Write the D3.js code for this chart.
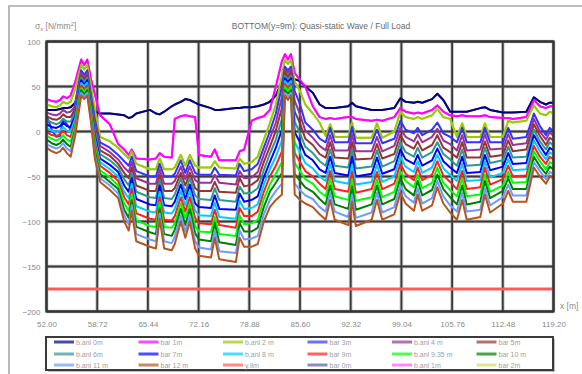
<!DOCTYPE html>
<html><head><meta charset="utf-8">
<script src="https://cdn.jsdelivr.net/npm/d3@7"></script>
<style>html,body{margin:0;padding:0;background:#fff;}svg{display:block;font-family:"Liberation Sans",Arial,sans-serif;}</style>
</head><body>
<svg id="c" width="582" height="374"></svg>
<script>
// ---- data ----
const xPos = [52.0,52.7,53.3,53.8,54.2,54.7,55.2,55.8,56.6,57.0,57.4,57.9,58.4,59.1,60.4,61.5,62.3,62.9,63.3,63.9,65.7,66.5,67.0,67.6,68.6,69.0,69.8,70.4,71.0,71.7,72.2,73.8,74.3,74.9,77.1,77.6,78.2,79.2,80.0,80.8,81.6,82.4,83.2,83.6,84.0,84.4,84.9,85.6,86.3,87.3,88.2,89.0,89.6,90.2,92.0,92.5,93.0,95.1,95.8,96.5,98.1,98.9,99.6,100.7,101.2,101.8,103.1,103.8,104.6,105.5,106.4,107.1,107.7,109.5,110.1,110.8,112.5,113.2,113.8,115.6,116.6,117.4,118.2,118.7,119.2];
const s1 = [24,24,24,25,26,26,27,32,45,44, 45,35,22,20,20,19,18,15,16,20, 24,20,19,22,28,30,33,36,35,32, 30,26,24,24,26,26,27,27,28,30, 33,40,55,62,60,62,58,56,50,43, 30,26,26,26,28,32,28,24,24,24, 26,37,33,32,33,32,36,42,35,22, 22,22,22,26,27,24,21,21,21,22, 38,33,30,32,32];
const s2 = [36,34,33,35,39,37,40,55,80,74, 80,58,42,18,8,-14,-20,-26,-20,-30, -31,-30,-24,-28,-29,14,17,18,17,16, -26,-28,-20,-32,-32,-22,-20,12,15,17, 24,50,78,86,80,86,65,57,50,28, 16,14,15,14,16,16,14,12,13,12, 16,26,22,20,21,20,24,29,22,18, 17,18,17,17,18,16,15,15,14,16, 35,28,26,28,28];
const s3 = [30,28,27,29,33,31,33,47,74,69, 74,50,25,-6,-11,-18,-25,-30,-22,-36, -42,-42,-30,-42,-42,-40,-26,-38,-26,-38, -40,-40,-33,-40,-41,-30,-36,-34,-28,-9, 9,30,62,80,75,80,55,45,30,20, 10,-5,8,-6,-6,10,-7,-7,9,-7, 0,22,16,14,16,14,18,25,16,14, -6,9,-6,-6,9,-6,-6,12,10,12, 29,20,18,22,20];
const s4 = [18,2,-6,-5,14,8,2,32,68,63, 68,40,14,-12,-18,-26,-33,-38,-28,-44, -50,-50,-36,-50,-50,-47,-32,-46,-32,-46, -48,-48,-40,-48,-49,-36,-44,-42,-36,-18, 0,20,50,72,68,72,45,30,10,2, -8,-12,4,-12,-12,5,-13,-13,2,-13, -8,12,2,-2,4,-4,2,10,-2,-6, -12,4,-12,-12,4,-12,-12,4,-8,-6, 20,6,-4,4,0];
const s5 = [21,19,18,20,24,21,22,28,65,60, 65,37,10,-16,-23,-31,-40,-45,-34,-52, -58,-58,-42,-58,-58,-55,-39,-53,-39,-54, -57,-57,-48,-57,-59,-44,-52,-51,-45,-26, -8,10,38,69,65,69,34,19,1,-7, -16,-21,-4,-21,-21,-3,-22,-22,-6,-22, -16,4,-6,-11,-3,-12,-6,3,-10,-14, -21,-4,-21,-20,-3,-20,-19,-3,-15,-13, 14,0,-9,-1,-5];
const s6 = [17,14,13,15,19,16,16,25,62,58, 62,34,5,-21,-27,-36,-46,-52,-40,-60, -66,-66,-48,-66,-66,-63,-46,-60,-46,-63, -66,-66,-56,-67,-68,-52,-61,-59,-54,-34, -17,1,26,66,61,66,22,9,-8,-15, -25,-29,-12,-29,-30,-12,-31,-30,-14,-30, -25,-4,-14,-19,-11,-21,-15,-4,-18,-23, -29,-12,-29,-29,-11,-28,-26,-10,-22,-20, 8,-5,-15,-7,-10];
const s7 = [13,10,8,10,14,11,11,21,60,55, 60,31,1,-25,-32,-40,-53,-60,-46,-67, -73,-74,-54,-74,-75,-70,-52,-68,-52,-71, -75,-76,-63,-76,-78,-61,-69,-68,-63,-43, -25,-9,14,62,58,62,11,-2,-17,-24, -33,-38,-20,-38,-40,-20,-41,-39,-21,-39, -33,-12,-23,-28,-18,-29,-23,-12,-25,-31, -38,-20,-38,-37,-18,-35,-32,-17,-29,-28, 2,-11,-20,-12,-16];
const s8 = [8,5,4,6,10,6,5,17,57,52, 57,28,-4,-30,-37,-45,-60,-67,-52,-75, -81,-82,-60,-82,-83,-78,-59,-75,-59,-80, -84,-85,-71,-86,-87,-69,-78,-76,-72,-51, -34,-18,2,59,55,59,-1,-12,-26,-32, -42,-46,-28,-46,-49,-28,-50,-47,-29,-47, -42,-20,-31,-36,-26,-38,-32,-19,-33,-40, -46,-28,-46,-45,-26,-43,-39,-24,-36,-35, -4,-16,-26,-18,-21];
const s9 = [4,1,-1,1,5,1,0,14,54,50, 54,25,-8,-34,-42,-50,-67,-74,-58,-83, -89,-90,-67,-90,-91,-86,-66,-82,-66,-88, -93,-94,-79,-95,-97,-77,-86,-85,-81,-59, -42,-28,-10,56,52,56,-12,-23,-35,-41, -50,-55,-36,-55,-58,-37,-59,-56,-37,-56, -50,-28,-39,-45,-33,-46,-40,-26,-41,-48, -55,-36,-55,-54,-33,-51,-46,-31,-43,-42, -10,-22,-31,-23,-26];
const s10 = [-1,-4,-5,-3,1,-4,-6,10,51,47, 51,22,-12,-38,-46,-55,-73,-81,-64,-91, -97,-98,-73,-98,-99,-94,-73,-89,-73,-96, -102,-103,-87,-104,-107,-85,-94,-94,-89,-67, -50,-38,-22,53,48,53,-24,-34,-44,-50, -58,-64,-44,-64,-67,-45,-68,-64,-45,-64, -58,-36,-47,-54,-40,-54,-48,-33,-49,-56, -64,-44,-64,-62,-40,-59,-53,-38,-50,-49, -16,-28,-36,-28,-31];
const s11 = [-5,-8,-10,-8,-4,-9,-11,6,48,44, 48,19,-17,-43,-51,-60,-80,-88,-70,-99, -105,-106,-79,-106,-107,-102,-80,-96,-80,-105, -111,-112,-95,-114,-116,-93,-103,-102,-98,-75, -59,-47,-34,50,45,50,-35,-44,-53,-58, -67,-72,-52,-72,-76,-53,-77,-73,-53,-73, -67,-44,-55,-62,-48,-63,-57,-40,-57,-65, -72,-52,-72,-70,-48,-67,-60,-45,-57,-56, -22,-33,-42,-34,-36];
const s12 = [-9,-13,-15,-13,-9,-14,-17,2,46,41, 46,16,-21,-47,-56,-64,-87,-96,-76,-106, -112,-114,-85,-114,-116,-109,-86,-104,-86,-113, -120,-122,-102,-123,-126,-102,-111,-111,-107,-84, -67,-57,-46,46,42,46,-47,-55,-62,-67, -75,-81,-60,-81,-86,-61,-87,-81,-60,-81, -75,-52,-64,-71,-55,-71,-65,-48,-64,-73, -81,-60,-81,-78,-55,-74,-66,-52,-64,-64, -28,-39,-47,-39,-42];
const s13 = [-14,-17,-19,-17,-13,-19,-22,-1,43,39, 43,13,-26,-52,-60,-69,-93,-103,-82,-114, -120,-122,-91,-122,-124,-117,-93,-111,-93,-122, -129,-131,-110,-133,-135,-110,-120,-119,-116,-92, -76,-66,-58,43,38,43,-58,-65,-71,-75, -84,-89,-68,-89,-95,-70,-96,-90,-68,-90, -84,-60,-72,-79,-63,-80,-74,-55,-72,-82, -89,-68,-89,-87,-63,-82,-73,-59,-71,-71, -34,-44,-53,-45,-47];
const s14 = [-18,-22,-24,-22,-18,-24,-28,-5,40,36, 40,10,-30,-56,-65,-74,-100,-110,-88,-122, -128,-130,-97,-130,-132,-125,-100,-118,-100,-130, -138,-140,-118,-142,-145,-118,-128,-128,-125,-100, -84,-76,-70,40,35,40,-70,-76,-80,-84, -92,-98,-76,-98,-104,-78,-105,-98,-76,-98, -92,-68,-80,-88,-70,-88,-82,-62,-80,-90, -98,-76,-98,-95,-70,-90,-80,-66,-78,-78, -40,-50,-58,-50,-52];
const limitX = [52.0, 119.2];
const limitY = [-175, -175];

const xTicks = [52.00,58.72,65.44,72.16,78.88,85.60,92.32,99.04,105.76,112.48,119.20];
const xTickLabels = ["52.00","58.72","65.44","72.16","78.88","85.60","92.32","99.04","105.76","112.48","119.20"];
const yTicks = [100,50,0,-50,-100,-150,-200];

const seriesNames = ["b.anl 0m","bar 1m","b.anl 2 m","bar 3m","b.anl 4 m","bar 5m",
                     "b.anl 6m","bar 7m","b.anl 8 m","bar 9m","b.anl 9.35 m","bar 10 m",
                     "b.anl 11 m","bar 12 m","y.lim","bar 0m","b.anl 1m","bar 2m"];
const seriesColors = ["#000080","#ff00ff","#99cc00","#3333ff","#993399","#993333",
                      "#2a9a96","#0000ff","#00ccff","#ff2020","#00ff00","#008000",
                      "#6f9bff","#b5551f","#ff5a5a","#5c5ca8","#ff55ff","#c8e064"];
const seriesX = [xPos,xPos,xPos,xPos,xPos,xPos,xPos,xPos,xPos,xPos,xPos,xPos,xPos,xPos,limitX,xPos,xPos,xPos];
const seriesY = [s1,s2,s3,s4,s5,s6,s7,s8,s9,s10,s11,s12,s13,s14,limitY,s1,s2,s3];

// ---- chart ----
const svg = d3.select("#c");
const L = 46.5, R = 553.5, T = 41.5, B = 311.5;
const x = d3.scaleLinear().domain([52, 119.2]).range([L, R]);
const y = d3.scaleLinear().domain([-200, 100]).range([B, T]);

// outer chart frame
svg.append("path").attr("d","M9,380 L9,6 L600,6").attr("fill","none").attr("stroke","#a8a8a8").attr("stroke-width",1.6);

// grid (halo + core)
const grid = svg.append("g");
[["#c4c4c4",3.6],["#3a3a3a",1.8]].forEach(([col,w])=>{
  grid.selectAll(null).data(xTicks).enter().append("line")
    .attr("x1",d=>x(d)).attr("x2",d=>x(d)).attr("y1",T).attr("y2",B)
    .attr("stroke",col).attr("stroke-width",w);
  grid.selectAll(null).data(yTicks).enter().append("line")
    .attr("y1",d=>y(d)).attr("y2",d=>y(d)).attr("x1",L).attr("x2",R)
    .attr("stroke",col).attr("stroke-width",w);
});

// series
const line = d3.line().x(d=>x(d[0])).y(d=>y(d[1]));
const order = [15,16,17,0,1,2,3,4,5,6,7,8,9,10,11,12,13,14];
const g = svg.append("g");
order.forEach(i=>{
  const pts = seriesX[i].map((xv,k)=>[xv, seriesY[i][k]]);
  g.append("path").datum(pts).attr("d",line)
    .attr("fill","none").attr("stroke",seriesColors[i])
    .attr("stroke-width", i===14 ? 3.2 : 2)
    .attr("stroke-linejoin","round");
});

// frame
svg.append("rect").attr("x",L).attr("y",T).attr("width",R-L).attr("height",B-T)
  .attr("fill","none").attr("stroke","#333").attr("stroke-width",2.2);

// axes
const yAxis = d3.axisLeft(y).tickValues(yTicks).tickSize(0).tickPadding(6).tickFormat(d3.format("d"));
const ya = svg.append("g").attr("transform",`translate(${L},0)`).call(yAxis);
const xAxis = d3.axisBottom(x).tickValues(xTicks).tickSize(0).tickPadding(10).tickFormat((d,i)=>xTickLabels[i]);
const xa = svg.append("g").attr("transform",`translate(0,${B})`).call(xAxis);
[ya,xa].forEach(a=>{
  a.select(".domain").remove();
  a.selectAll("text").attr("fill","#8a8a8a").style("font-size","8px").style("font-family","'Liberation Sans',Arial,sans-serif");
});

// titles
svg.append("text").attr("x",321).attr("y",29).attr("text-anchor","middle")
  .attr("fill","#6a6a6a").style("font-size","8.5px")
  .text("BOTTOM(y=9m): Quasi-static Wave / Full Load");
const yl = svg.append("text").attr("x",35).attr("y",29).attr("fill","#8a8a8a").style("font-size","8.5px");
yl.append("tspan").text("σ");
yl.append("tspan").attr("dy",2).style("font-size","6px").text("x");
yl.append("tspan").attr("dy",-2).text(" [N/mm");
yl.append("tspan").attr("dy",-3).style("font-size","6px").text("2");
yl.append("tspan").attr("dy",3).text("]");
svg.append("text").attr("x",560).attr("y",309).attr("fill","#8a8a8a").style("font-size","8.5px").text("x [m]");

// legend
const lg = svg.append("g");
lg.append("rect").attr("x",48).attr("y",339).attr("width",507).attr("height",33).attr("fill","#bdbdbd");
lg.append("rect").attr("x",46).attr("y",337).attr("width",507).attr("height",33)
  .attr("fill","#fff").attr("stroke","#3a3a3a").attr("stroke-width",2);
const rowsY = [342, 354, 365];
seriesNames.forEach((name,i)=>{
  const col = i % 6, row = Math.floor(i/6);
  const x0 = 54 + col*84.5, yy = rowsY[row];
  lg.append("line").attr("x1",x0).attr("x2",x0+20).attr("y1",yy).attr("y2",yy)
    .attr("stroke",seriesColors[i]).attr("stroke-width",3).attr("opacity",0.7);
  lg.append("text").attr("x",x0+22).attr("y",yy+2.5).attr("fill","#a0a0a0")
    .style("font-size","7px").text(name);
});
</script>
</body></html>
